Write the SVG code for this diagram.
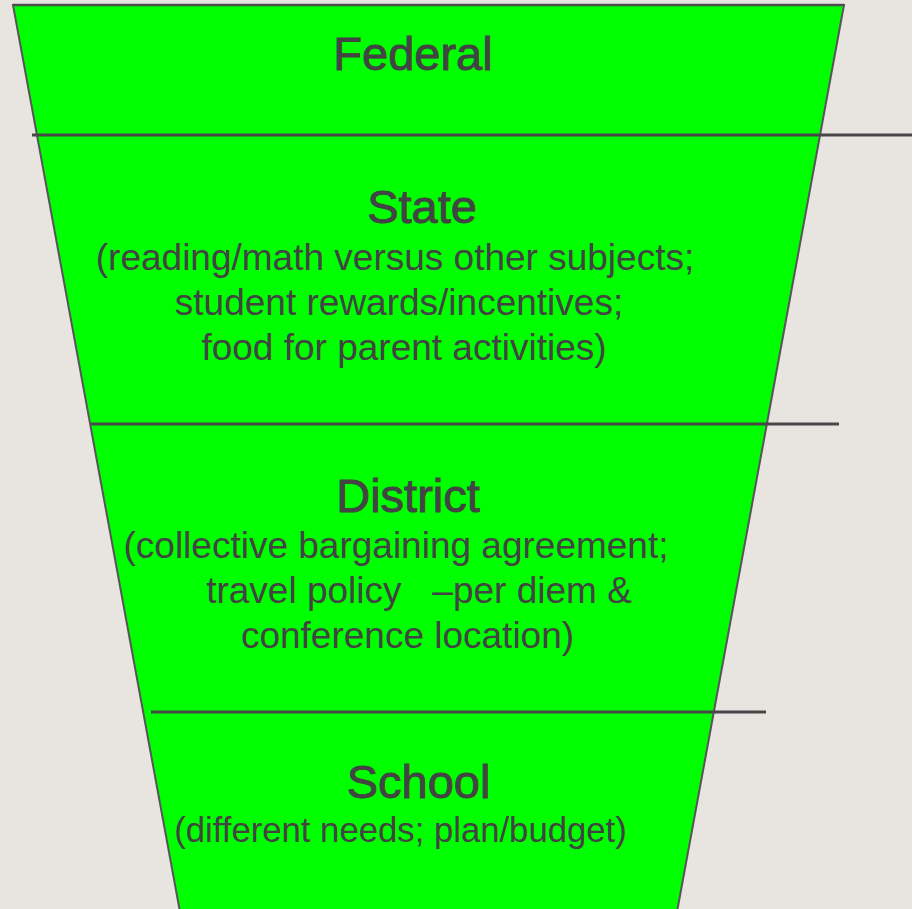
<svg xmlns="http://www.w3.org/2000/svg" width="912" height="909" viewBox="0 0 912 909">
  <style>
    .title { font-family: "Liberation Sans", Arial, sans-serif; font-size: 47px; fill: #434343; stroke: #434343; stroke-width: 0.9; text-anchor: middle; }
    .sub { font-family: "Liberation Sans", Arial, sans-serif; font-size: 37px; fill: #434343; text-anchor: middle; }
    .sub.small { font-size: 34.7px; }
    .divider { stroke: #474747; stroke-width: 2.8; fill: none; }
  </style>
  <!-- page background -->
  <rect x="0" y="0" width="912" height="909" fill="#E8E5E1"/>

  <!-- funnel shape -->
  <g id="funnel">
    <polygon points="13,5 844,5 677,912 180,912" fill="#00FF00" stroke="#58545A" stroke-width="2"/>
    <line x1="13" y1="5" x2="844" y2="5" stroke="#4E4E4E" stroke-width="2.4"/>
  </g>

  <!-- level dividers -->
  <g id="connectors">
    <line class="divider" x1="32" y1="135" x2="912" y2="135"/>
    <line class="divider" x1="91" y1="424" x2="839" y2="424"/>
    <line class="divider" x1="151" y1="712" x2="766" y2="712"/>
  </g>

  <g id="federal">
    <text class="title" x="413" y="70">Federal</text>
  </g>

  <g id="state">
    <text class="title" x="422" y="223">State</text>
    <text class="sub" x="395" y="270">(reading/math versus other subjects;</text>
    <text class="sub" x="399" y="315">student rewards/incentives;</text>
    <text class="sub" x="404" y="360">food for parent activities)</text>
  </g>

  <g id="district">
    <text class="title" x="408" y="512">District</text>
    <text class="sub" x="396" y="558">(collective bargaining agreement;</text>
    <text class="sub" x="419" y="603" xml:space="preserve" style="white-space:pre">travel policy   –per diem &amp;</text>
    <text class="sub" x="407.5" y="648">conference location)</text>
  </g>

  <g id="school">
    <text class="title" x="418.5" y="798">School</text>
    <text class="sub small" x="400.5" y="842">(different needs; plan/budget)</text>
  </g>
</svg>
